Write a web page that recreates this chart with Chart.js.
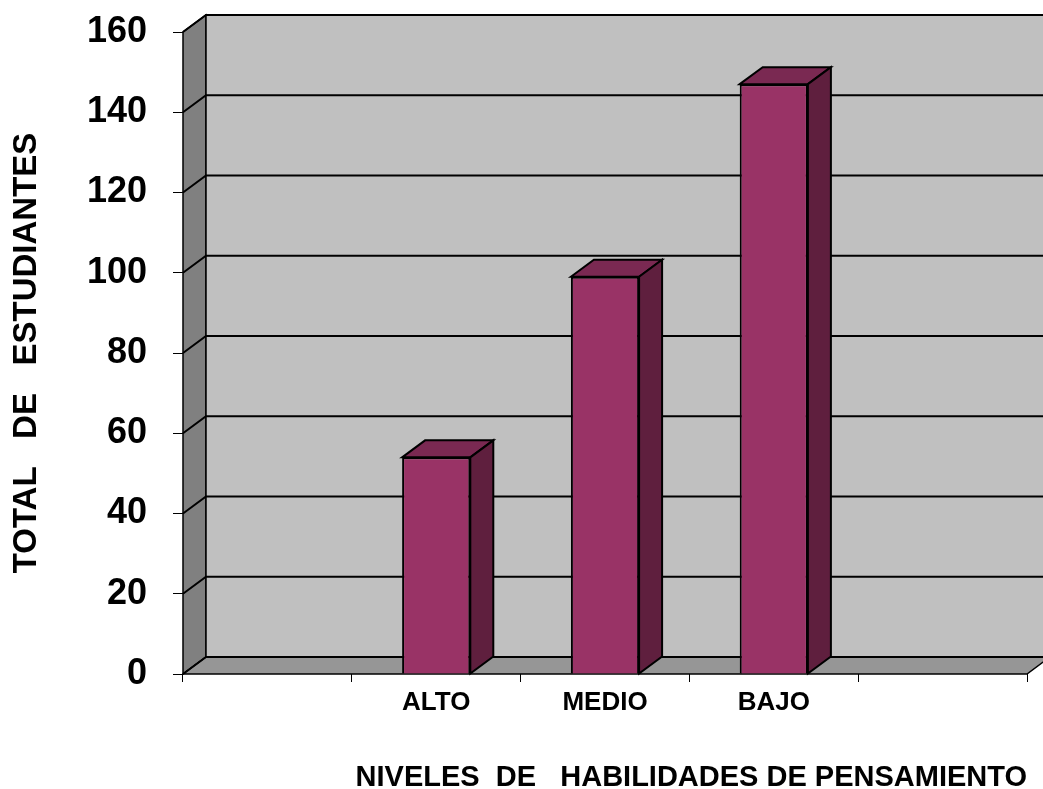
<!DOCTYPE html>
<html>
<head>
<meta charset="utf-8">
<script src="https://cdn.jsdelivr.net/npm/chart.js@4.4.1/dist/chart.umd.min.js"></script>
<style>
  body { margin: 0; background: #ffffff; }
  #wrap { width: 1043px; height: 789px; position: relative; }
</style>
</head>
<body>
<div id="wrap"><canvas id="niveles"></canvas></div>
<script>
// Data
const categories = ['', 'ALTO', 'MEDIO', 'BAJO', ''];
const estudiantes = [null, 54, 99, 147, null];
const yTicks = [0, 20, 40, 60, 80, 100, 120, 140, 160];

const FONT = "'Liberation Sans', Arial, sans-serif";
// depth of the fake 3D box
const DX = 23, DY = -17;

function poly(ctx, pts, fill, lw) {
    ctx.beginPath();
    ctx.moveTo(pts[0][0], pts[0][1]);
    for (let i = 1; i < pts.length; i++) ctx.lineTo(pts[i][0], pts[i][1]);
    ctx.closePath();
    ctx.fillStyle = fill;
    ctx.fill();
    ctx.lineWidth = lw || 1.5;
    ctx.strokeStyle = '#000000';
    ctx.stroke();
}

// walls, floor and back-wall gridlines
const box3d = {
    id: 'box3d',
    beforeDatasetsDraw(chart) {
        const { ctx, chartArea: a, scales: { y } } = chart;
        ctx.save();
        ctx.lineJoin = 'miter';
        // left wall
        poly(ctx, [[a.left, a.bottom], [a.left, a.top], [a.left + DX, a.top + DY], [a.left + DX, a.bottom + DY]], '#808080');
        // back wall
        poly(ctx, [[a.left + DX, a.top + DY], [a.right + DX, a.top + DY], [a.right + DX, a.bottom + DY], [a.left + DX, a.bottom + DY]], '#c0c0c0');
        // floor
        poly(ctx, [[a.left, a.bottom], [a.left + DX, a.bottom + DY], [a.right + DX, a.bottom + DY], [a.right, a.bottom]], '#969696');
        // gridlines
        ctx.lineWidth = 2;
        ctx.strokeStyle = '#000000';
        yTicks.forEach(v => {
            const py = y.getPixelForValue(v);
            ctx.beginPath();
            ctx.moveTo(a.left, py);
            ctx.lineTo(a.left + DX, py + DY);
            ctx.lineTo(a.right + DX, py + DY);
            ctx.stroke();
        });
        ctx.restore();
    },
    afterDatasetsDraw(chart) {
        const ctx = chart.ctx;
        const values = chart.data.datasets[0].data;
        ctx.save();
        chart.getDatasetMeta(0).data.forEach((bar, i) => {
            if (values[i] == null) return;
            const { x, y, width, base } = bar.getProps(['x', 'y', 'width', 'base'], true);
            const l = x - width / 2, r = x + width / 2;
            // top face
            poly(ctx, [[l, y], [l + DX, y + DY], [r + DX, y + DY], [r, y]], '#7a2952', 2);
            // side face
            poly(ctx, [[r, y], [r + DX, y + DY], [r + DX, base + DY], [r, base]], '#5f1f3e', 2);
        });
        ctx.restore();
    }
};

new Chart(document.getElementById('niveles'), {
    type: 'bar',
    plugins: [box3d],
    data: {
        labels: categories,
        datasets: [
            {
                label: 'Estudiantes',
                data: estudiantes,
                backgroundColor: '#993366',
                borderColor: '#000000',
                borderWidth: 2,
                barPercentage: 0.404,
                categoryPercentage: 1
            }
        ]
    },
    options: {
        responsive: true,
        maintainAspectRatio: false,
        animation: false,
        layout: { padding: { top: 32, right: 16, left: 0, bottom: 0 } },
        plugins: {
            legend: { display: false },
            tooltip: { enabled: false }
        },
        scales: {
            x: {
                afterFit: s => { s.height = 115; s.paddingLeft = 0; s.paddingRight = 0; },
                grid: {
                    offset: true,
                    drawOnChartArea: false,
                    drawTicks: true,
                    tickLength: 8,
                    color: '#000000'
                },
                border: { display: false },
                ticks: {
                    color: '#000000',
                    padding: 5,
                    maxRotation: 0,
                    font: { family: FONT, size: 26, weight: 'bold' }
                },
                title: {
                    display: true,
                    text: 'NIVELES  DE   HABILIDADES DE PENSAMIENTO',
                    align: 'end',
                    color: '#000000',
                    padding: { top: 0, bottom: -3 },
                    font: { family: FONT, size: 29, weight: 'bold', lineHeight: 1 }
                }
            },
            y: {
                min: 0,
                max: 160,
                afterFit: s => { s.width = 183; s.paddingTop = 0; s.paddingBottom = 0; },
                afterBuildTicks: s => { s.ticks = yTicks.map(v => ({ value: v })); },
                grid: {
                    drawOnChartArea: false,
                    drawTicks: true,
                    tickLength: 10,
                    color: '#000000'
                },
                border: { display: false },
                ticks: {
                    color: '#000000',
                    padding: 26,
                    font: { family: FONT, size: 36, weight: 'bold' }
                },
                title: {
                    display: true,
                    text: 'TOTAL   DE   ESTUDIANTES',
                    color: '#000000',
                    padding: { top: 10, bottom: 0 },
                    font: { family: FONT, size: 33, weight: 'bold', lineHeight: 1 }
                }
            }
        }
    }
});
</script>
</body>
</html>
